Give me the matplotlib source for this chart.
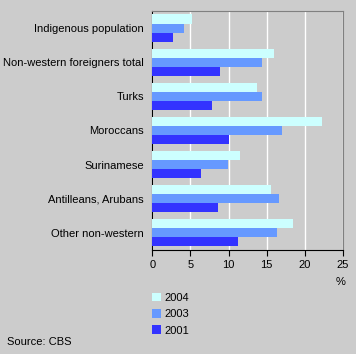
import numpy as np
import matplotlib.pyplot as plt
from matplotlib.patches import Patch

plt.rcParams['font.family'] = ['Liberation Sans', 'DejaVu Sans']
plt.rcParams['font.size'] = 8

categories = ['Indigenous population', 'Non-western foreigners total', 'Turks',
              'Moroccans', 'Surinamese', 'Antilleans, Arubans', 'Other non-western']
v2004 = [5.2, 15.9, 13.7, 22.2, 11.5, 15.5, 18.4]
v2003 = [4.1, 14.4, 14.4, 17.0, 9.9, 16.6, 16.3]
v2001 = [2.7, 8.9, 7.8, 10.0, 6.4, 8.6, 11.2]
series = ['2004', '2003', '2001']
colors = ['#ccffff', '#6699ff', '#3333ff']
bg = '#cccccc'

fig = plt.figure(figsize=(3.56, 3.54), dpi=100, facecolor=bg)
ax = fig.add_axes([0.428, 0.294, 0.5355, 0.675], facecolor=bg)

y = np.arange(len(categories))
h = 0.265
for i, vals in enumerate([v2004, v2003, v2001]):
    ax.barh(y - h + i * h, vals, height=h, color=colors[i], zorder=3)

ax.set_ylim(len(categories) - 0.5, -0.5)
ax.set_xlim(0, 25)
ax.set_xticks([0, 5, 10, 15, 20, 25])
ax.set_yticks(y)
ax.set_yticklabels(categories)
ax.tick_params(axis='y', length=0, pad=6)
ax.tick_params(axis='x', length=4, direction='out', pad=3)
ax.xaxis.grid(True, color='white', linewidth=1, zorder=0)
for s in ['top', 'right']:
    ax.spines[s].set_color('#808080')
for s in ['left', 'bottom']:
    ax.spines[s].set_color('black')

fig.text(0.958, 0.203, '%', ha='center', va='center')
handles = [Patch(facecolor=c, edgecolor='none') for c in colors]
fig.legend(handles, series, loc='upper left', bbox_to_anchor=(0.415, 0.185),
           frameon=False, handlelength=0.8, handleheight=0.8, handletextpad=0.3,
           labelspacing=0.55, borderaxespad=0)
fig.text(0.02, 0.035, 'Source: CBS', ha='left', va='center')

fig.savefig('out.png', dpi=100, facecolor=bg)
